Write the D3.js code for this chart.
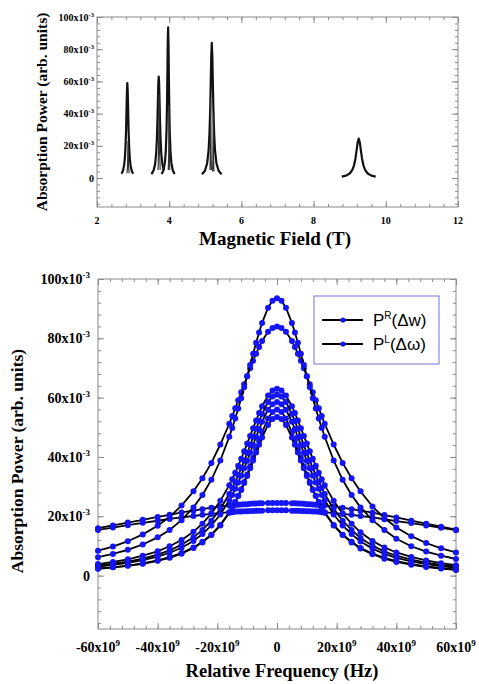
<!DOCTYPE html>
<html>
<head>
<meta charset="utf-8">
<script src="https://cdn.jsdelivr.net/npm/d3@7"></script>
<style>
  body { margin: 0; background: #fff; }
</style>
</head>
<body>
<div id="vis"></div>
<script>

// ---- top panel: absorption vs magnetic field (power in x10^-3) ----
var fieldTicks = [2, 4, 6, 8, 10, 12];
var powerTicks = [0, 20, 40, 60, 80, 100];

var fieldPeak1 = [2.68, 2.72, 2.75, 2.77, 2.79, 2.805, 2.82, 2.83, 2.84, 2.85, 2.86, 2.875, 2.89, 2.91, 2.93, 2.96, 3.00];
var powerPeak1 = [2.7, 4.6, 7.8, 11.8, 19.4, 29.5, 44.5, 54.5, 59, 54.5, 44.5, 29.5, 19.4, 11.8, 7.8, 4.6, 2.7];
var fieldPeak2 = [3.51, 3.57, 3.61, 3.64, 3.66, 3.675, 3.69, 3.70, 3.71, 3.72, 3.73, 3.745, 3.76, 3.78, 3.81, 3.85];
var powerPeak2 = [2.4, 4.8, 8.7, 15.5, 24.6, 35.7, 50.4, 59.3, 63, 59.3, 50.4, 35.7, 24.6, 15.5, 8.7, 4.8];
var fieldPeak3 = [3.79, 3.84, 3.88, 3.905, 3.925, 3.94, 3.95, 3.96, 3.97, 3.98, 3.99, 4.0, 4.015, 4.035, 4.06, 4.10, 4.15];
var powerPeak3 = [2.5, 4.7, 9.4, 16.4, 28.8, 46.8, 64.7, 84.2, 93.5, 84.2, 64.7, 46.8, 28.8, 16.4, 9.4, 4.7, 2.5];
var fieldPeak4 = [4.91, 4.99, 5.05, 5.09, 5.115, 5.135, 5.15, 5.165, 5.18, 5.195, 5.21, 5.225, 5.245, 5.27, 5.31, 5.37, 5.45];
var powerPeak4 = [2.3, 4.5, 9.0, 16.8, 27.3, 42, 58.2, 75.6, 84, 75.6, 58.2, 42, 27.3, 16.8, 9.0, 4.5, 2.3];
var fieldPeak5 = [8.78, 8.90, 9.00, 9.07, 9.12, 9.16, 9.19, 9.22, 9.25, 9.28, 9.31, 9.34, 9.38, 9.43, 9.50, 9.60, 9.72];
var powerPeak5 = [0.9, 1.5, 2.8, 4.9, 7.9, 12.3, 17.0, 22.1, 24.5, 22.1, 17.0, 12.3, 7.9, 4.9, 2.8, 1.5, 0.9];

// thin secondary traces sitting inside the main peaks
var fieldSpike1 = [2.83, 2.845, 2.852, 2.86, 2.868, 2.875, 2.89];
var powerSpike1 = [3, 7, 15, 23, 15, 7, 3];
var fieldSpike2 = [3.69, 3.705, 3.713, 3.72, 3.727, 3.735, 3.75];
var powerSpike2 = [5, 16, 35, 52, 35, 16, 5];
var fieldSpike3 = [3.975, 3.985, 3.99, 3.995, 4.0, 4.005, 4.015];
var powerSpike3 = [5, 14, 30, 45, 30, 14, 5];
var fieldSpike4 = [5.13, 5.14, 5.145, 5.15, 5.155, 5.16, 5.17];
var powerSpike4 = [5, 15, 32, 48, 32, 15, 5];
var fieldSpike5 = [5.2, 5.21, 5.215, 5.22, 5.225, 5.23, 5.24];
var powerSpike5 = [4, 12, 25, 38, 25, 12, 4];

// ---- bottom panel: absorption vs relative frequency (x10^9 Hz) ----
var freqTicks = [-60, -40, -20, 0, 20, 40, 60];

var relFreq = [-60, -55, -50, -45, -40, -36, -32, -28, -25, -22, -19, -16, -15, -14, -13, -12, -11, -10, -9, -8, -7, -6, -5, -3, -1.5,
  0, 1.5, 3, 5, 6, 7, 8, 9, 10, 11, 12, 13, 14, 15, 16, 19, 22, 25, 28, 32, 36, 40, 45, 50, 55, 60];

var absorb1 = [6.2, 7.3, 8.7, 10.5, 12.9, 15.4, 18.7, 23.0, 27.2, 32.3, 38.8, 46.8, 49.8, 53.0, 56.3, 59.8, 63.5, 67.2, 71.0, 74.8, 78.5, 82.0, 85.2, 90.3, 92.7,
  93.5, 92.7, 90.3, 85.2, 82.0, 78.5, 74.8, 71.0, 67.2, 63.5, 59.8, 56.3, 53.0, 49.8, 46.8, 38.8, 32.3, 27.2, 23.0, 18.7, 15.4, 12.4, 9.9, 8.1, 6.7, 5.6];
var absorb2 = [8.4, 9.8, 11.6, 13.9, 16.8, 19.8, 23.6, 28.4, 32.8, 38.0, 44.2, 51.2, 53.8, 56.4, 59.1, 61.8, 64.5, 67.2, 69.9, 72.4, 74.8, 77.1, 79.1, 82.2, 83.5,
  84, 83.5, 82.2, 79.1, 77.1, 74.8, 72.4, 69.9, 67.2, 64.5, 61.8, 59.1, 56.4, 53.8, 51.2, 44.2, 38.0, 32.8, 28.4, 23.3, 19.4, 16.2, 13.3, 11.0, 9.2, 7.8];
var absorb3 = [3.9, 4.6, 5.5, 6.7, 8.2, 9.9, 12.0, 14.8, 17.5, 20.9, 25.2, 30.5, 32.5, 34.7, 37.0, 39.4, 41.9, 44.5, 47.1, 49.7, 52.3, 54.8, 57.1, 60.7, 62.4,
  63, 62.4, 60.7, 57.1, 54.8, 52.3, 49.7, 47.1, 44.5, 41.9, 39.4, 37.0, 34.7, 32.5, 30.5, 25.2, 20.9, 17.5, 14.6, 11.7, 9.5, 7.8, 6.3, 5.1, 4.2, 3.5];
var absorb4 = [3.4, 4.0, 4.7, 5.7, 7.1, 8.5, 10.4, 12.9, 15.4, 18.5, 22.5, 27.5, 29.5, 31.6, 33.8, 36.2, 38.7, 41.3, 44.0, 46.8, 49.5, 52.1, 54.5, 58.5, 60.4,
  61, 60.4, 58.5, 54.5, 52.1, 49.5, 46.8, 44.0, 41.3, 38.7, 36.2, 33.8, 31.6, 29.5, 27.5, 22.5, 18.5, 15.4, 12.7, 10.1, 8.1, 6.7, 5.4, 4.4, 3.6, 3.0];
var absorb5 = [3.0, 3.6, 4.3, 5.2, 6.4, 7.7, 9.4, 11.7, 14.0, 16.9, 20.6, 25.4, 27.2, 29.3, 31.4, 33.7, 36.2, 38.7, 41.4, 44.1, 46.8, 49.4, 51.9, 55.9, 57.8,
  58.5, 57.8, 55.9, 51.9, 49.4, 46.8, 44.1, 41.4, 38.7, 36.2, 33.7, 31.4, 29.3, 27.2, 25.4, 20.6, 16.9, 14.0, 11.5, 9.1, 7.3, 6.0, 4.8, 3.9, 3.2, 2.6];
var absorb6 = [2.3, 2.8, 3.3, 4.0, 5.0, 6.0, 7.4, 9.3, 11.2, 13.7, 16.9, 21.2, 23.0, 24.8, 26.9, 29.1, 31.6, 34.1, 36.9, 39.7, 42.6, 45.5, 48.3, 53.0, 55.2,
  56, 55.2, 53.0, 48.3, 45.5, 42.6, 39.7, 36.9, 34.1, 31.6, 29.1, 26.9, 24.8, 23.0, 21.2, 16.9, 13.7, 11.2, 9.1, 7.2, 5.7, 4.6, 3.7, 2.9, 2.4, 1.9];
var absorb7 = [2.4, 2.8, 3.4, 4.1, 5.1, 6.2, 7.6, 9.5, 11.4, 13.8, 17.1, 21.3, 22.9, 24.8, 26.8, 28.9, 31.2, 33.6, 36.2, 38.8, 41.5, 44.1, 46.6, 50.8, 52.8,
  53.5, 52.8, 50.8, 46.6, 44.1, 41.5, 38.8, 36.2, 33.6, 31.2, 28.9, 26.8, 24.8, 22.9, 21.3, 17.1, 13.8, 11.4, 9.3, 7.4, 6.0, 4.9, 3.9, 3.1, 2.5, 2.0];
var absorb8 = [16.0, 16.9, 17.9, 18.8, 19.8, 20.5, 21.3, 21.9, 22.4, 22.9, 23.3, 23.6, 23.7, 23.8, 23.9, 24.0, 24.1, 24.1, 24.2, 24.3, 24.3, 24.4, 24.4, 24.5, 24.5,
  24.5, 24.5, 24.5, 24.4, 24.4, 24.3, 24.3, 24.2, 24.1, 24.1, 24.0, 23.9, 23.8, 23.7, 23.6, 23.3, 22.9, 22.4, 21.9, 21.2, 20.4, 19.6, 18.5, 17.5, 16.5, 15.5];
var absorb9 = [15.4, 16.2, 17.0, 17.8, 18.5, 19.1, 19.6, 20.1, 20.5, 20.8, 21.1, 21.4, 21.4, 21.5, 21.6, 21.6, 21.7, 21.7, 21.8, 21.8, 21.9, 21.9, 21.9, 22.0, 22.0,
  22, 22.0, 22.0, 21.9, 21.9, 21.9, 21.8, 21.8, 21.7, 21.7, 21.6, 21.6, 21.5, 21.4, 21.4, 21.1, 20.8, 20.5, 20.1, 19.6, 19.0, 18.4, 17.7, 16.9, 16.1, 15.3];

var legendLabels = [["R", "(\u0394w)"], ["L", "(\u0394\u03c9)"]];

var width = 479,
    height = 684;

var svg = d3.select("#vis").append("svg")
    .attr("width", width)
    .attr("height", height)
    .style("font-family", "'Liberation Serif', 'Times New Roman', serif")
    .style("font-weight", "bold");

var xTop = d3.scaleLinear().domain([2, 12]).range([97, 458]),
    yTop = d3.scaleLinear().domain([-18, 100]).range([207, 17]),
    xBot = d3.scaleLinear().domain([-60, 60]).range([98, 456]),
    yBot = d3.scaleLinear().domain([-18, 100]).range([629, 279]);

function frame(x, y, xMinor, yMinor) {
    var g = svg.append("g");
    var xr = x.range(), yr = y.range();
    g.append("rect")
        .attr("x", xr[0]).attr("y", yr[1])
        .attr("width", xr[1] - xr[0]).attr("height", yr[0] - yr[1])
        .attr("fill", "none")
        .attr("stroke", "#8a8a8a");
    [[d3.axisBottom(x), "translate(0," + yr[0] + ")", xMinor, x.ticks(5)],
     [d3.axisTop(x), "translate(0," + yr[1] + ")", xMinor, x.ticks(5)],
     [d3.axisLeft(y), "translate(" + xr[0] + ",0)", yMinor, powerTicks],
     [d3.axisRight(y), "translate(" + xr[1] + ",0)", yMinor, powerTicks]].forEach(function(a) {
        g.append("g").attr("transform", a[1])
            .call(a[0].tickValues(a[2]).tickSize(-3).tickFormat(""));
        g.append("g").attr("transform", a[1])
            .call(a[0].tickValues(a[3]).tickSize(-6).tickFormat(""));
    });
    g.selectAll(".domain").remove();
    g.selectAll(".tick line").attr("stroke", "#8a8a8a");
}

function sciLabel(exp, sup, dy) {
    return function(d) {
        var t = d3.select(this);
        if (d === 0) { t.text("0"); return; }
        t.append("tspan").text(d + "x10");
        t.append("tspan").attr("dy", dy).attr("font-size", sup).text(exp);
    };
}

// ---------- top panel ----------
frame(xTop, yTop, d3.range(2, 12.01, 0.4), d3.range(-16, 100.1, 4));

svg.append("g").selectAll("text")
    .data(powerTicks)
    .enter().append("text")
    .attr("x", 94)
    .attr("y", function(d) { return yTop(d) + 3.5; })
    .attr("text-anchor", "end")
    .attr("font-size", 10)
    .each(sciLabel("-3", 6.5, -4));

svg.append("g").selectAll("text")
    .data(fieldTicks)
    .enter().append("text")
    .attr("x", function(d) { return xTop(d); })
    .attr("y", 224)
    .attr("text-anchor", "middle")
    .attr("font-size", 10)
    .text(function(d) { return d; });

svg.append("text")
    .attr("x", 275).attr("y", 245)
    .attr("text-anchor", "middle")
    .attr("font-size", 19)
    .text("Magnetic Field (T)");

svg.append("text")
    .attr("transform", "translate(47,112)rotate(-90)")
    .attr("text-anchor", "middle")
    .attr("font-size", 15.5)
    .text("Absorption Power (arb. units)");

var topLine = d3.line()
    .x(function(d) { return xTop(d[0]); })
    .y(function(d) { return yTop(d[1]); });

var peaks = [[fieldPeak1, powerPeak1], [fieldPeak2, powerPeak2], [fieldPeak3, powerPeak3],
             [fieldPeak4, powerPeak4], [fieldPeak5, powerPeak5]];
var spikes = [[fieldSpike1, powerSpike1], [fieldSpike2, powerSpike2], [fieldSpike3, powerSpike3],
              [fieldSpike4, powerSpike4], [fieldSpike5, powerSpike5]];

svg.append("g").selectAll("path")
    .data(peaks)
    .enter().append("path")
    .attr("d", function(p) { return topLine(d3.zip(p[0], p[1])); })
    .attr("fill", "none")
    .attr("stroke", "#111")
    .attr("stroke-width", 2.2)
    .attr("stroke-linejoin", "round");

svg.append("g").selectAll("path")
    .data(spikes)
    .enter().append("path")
    .attr("d", function(p) { return topLine(d3.zip(p[0], p[1])); })
    .attr("fill", "none")
    .attr("stroke", "#333")
    .attr("stroke-width", 1.2);

// ---------- bottom panel ----------
frame(xBot, yBot, d3.range(-60, 60.1, 4), d3.range(-16, 100.1, 4));

svg.append("g").selectAll("text")
    .data(powerTicks)
    .enter().append("text")
    .attr("x", 90)
    .attr("y", function(d) { return yBot(d) + 5; })
    .attr("text-anchor", "end")
    .attr("font-size", 14)
    .each(sciLabel("-3", 9, -6));

svg.append("g").selectAll("text")
    .data(freqTicks)
    .enter().append("text")
    .attr("x", function(d) { return xBot(d); })
    .attr("y", 652)
    .attr("text-anchor", "middle")
    .attr("font-size", 14)
    .each(sciLabel("9", 9, -6));

svg.append("text")
    .attr("x", 282).attr("y", 677)
    .attr("text-anchor", "middle")
    .attr("font-size", 18.5)
    .text("Relative Frequency (Hz)");

svg.append("text")
    .attr("transform", "translate(23,461)rotate(-90)")
    .attr("text-anchor", "middle")
    .attr("font-size", 17.5)
    .text("Absorption Power (arb. units)");

var botLine = d3.line()
    .x(function(d) { return xBot(d[0]); })
    .y(function(d) { return yBot(d[1]); });

var series = [absorb8, absorb9, absorb2, absorb1, absorb3, absorb4, absorb5, absorb6, absorb7];

var traces = svg.append("g").selectAll("g")
    .data(series)
    .enter().append("g");

traces.append("path")
    .attr("d", function(s) { return botLine(d3.zip(relFreq, s)); })
    .attr("fill", "none")
    .attr("stroke", "#000")
    .attr("stroke-width", 1.8);

traces.selectAll("circle")
    .data(function(s) { return d3.zip(relFreq, s); })
    .enter().append("circle")
    .attr("cx", function(d) { return xBot(d[0]); })
    .attr("cy", function(d) { return yBot(d[1]); })
    .attr("r", 3)
    .attr("fill", "#1515f5");

// legend
var legend = svg.append("g");

legend.append("rect")
    .attr("x", 314).attr("y", 296)
    .attr("width", 125).attr("height", 68)
    .attr("fill", "#fff")
    .attr("stroke", "#7474cf");

var rows = legend.selectAll("g.row")
    .data(legendLabels)
    .enter().append("g")
    .attr("class", "row")
    .attr("transform", function(d, i) { return "translate(0," + (320 + i * 24) + ")"; });

rows.append("line")
    .attr("x1", 322).attr("x2", 363)
    .attr("stroke", "#000")
    .attr("stroke-width", 2);

rows.append("circle")
    .attr("cx", 343)
    .attr("r", 2.6)
    .attr("fill", "#1515f5");

rows.append("text")
    .attr("x", 373).attr("y", 6)
    .style("font-family", "'Liberation Sans', Arial, sans-serif")
    .style("font-weight", "normal")
    .attr("font-size", 17)
    .each(function(d) {
        var t = d3.select(this);
        t.append("tspan").text("P");
        t.append("tspan").attr("dy", -7).attr("font-size", 10).text(d[0]);
        t.append("tspan").attr("dy", 7).text(d[1]);
    });

</script>
</body>
</html>
